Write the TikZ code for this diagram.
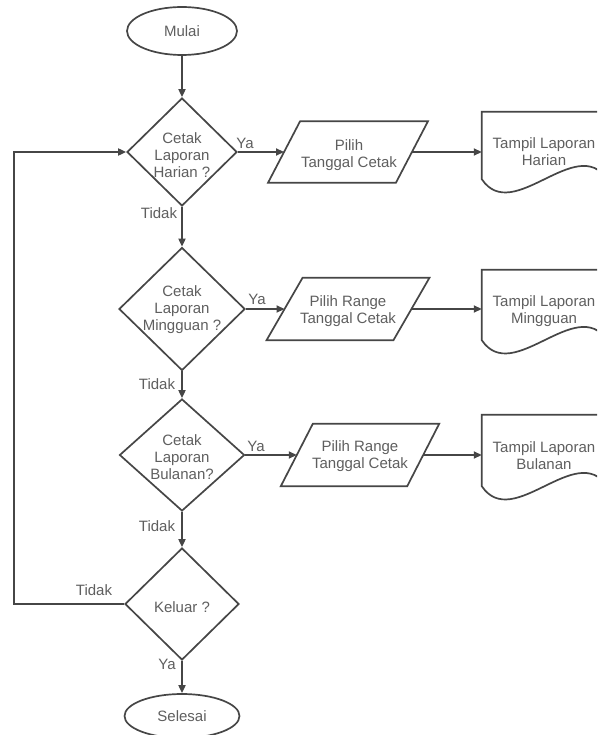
\documentclass[tikz,border=0pt]{standalone}
\usepackage{fontspec}
\setmainfont{Liberation Sans}
\usetikzlibrary{shapes.geometric,arrows.meta,calc}
\definecolor{linegray}{RGB}{70,70,70}
\definecolor{textgray}{RGB}{95,95,95}
\begin{document}
\begin{tikzpicture}[x=1pt,y=-1pt,
  line/.style={draw=linegray, line width=1.7pt},
  arr/.style={line, -{Triangle[length=8pt,width=7pt]}},
  txt/.style={text=textgray, font=\fontsize{15}{17}\selectfont, align=center, inner sep=0pt},
  term/.style={ellipse, line, fill=white, inner sep=0pt, txt},
  decision/.style={diamond, line, fill=white, inner sep=0pt},
  geom/.style={rectangle, draw=none, inner sep=0pt}
]
\useasboundingbox (0,0) rectangle (597,735);
\clip (0,0) rectangle (597,735);
\fill[white] (0,0) rectangle (597,735);

% terminals
\node[term, minimum width=110pt, minimum height=48pt] (start) at (182,31) {Mulai};
\node[term, minimum width=115pt, minimum height=44pt] (stop) at (182,716) {Selesai};

% decisions
\node[decision, minimum width=110pt, minimum height=108pt] (d1) at (182,152) {};
\node[txt] (d1t) at (182,155) {Cetak\\Laporan\\Harian ?};
\node[decision, minimum width=126pt, minimum height=123pt] (d2) at (182,309) {};
\node[txt] (d2t) at (182,310) {Cetak\\Laporan\\Mingguan ?};
\node[decision, minimum width=125pt, minimum height=112pt] (d3) at (182,455) {};
\node[txt] (d3t) at (182,457) {Cetak\\Laporan\\Bulanan?};
\node[decision, minimum width=114pt, minimum height=112pt] (d4) at (182,604) {};
\node[txt] (d4t) at (182,607) {Keluar ?};

% input boxes (parallelograms drawn around invisible frames)
\node[geom, minimum width=127.5pt, minimum height=61pt] (p1) at (348,152) {};
\node[geom, minimum width=126.5pt, minimum height=62pt] (p2) at (348,309) {};
\node[geom, minimum width=126pt, minimum height=62pt] (p3) at (360,455) {};
\foreach \p/\s in {p1/16, p2/18, p3/16}{
  \draw[line, fill=white] ($(\p.north west)+(\s,0)$) -- ($(\p.north east)+(\s,0)$)
    -- ($(\p.south east)-(\s,0)$) -- ($(\p.south west)-(\s,0)$) -- cycle;
}
\node[txt] (p1t) at (349,155) {Pilih\\Tanggal Cetak};
\node[txt] (p2t) at (348,311) {Pilih Range\\Tanggal Cetak};
\node[txt] (p3t) at (360,456) {Pilih Range\\Tanggal Cetak};

% documents
\node[geom, minimum width=125pt, minimum height=67pt] (doc1) at (544.5,145.5) {};
\node[geom, minimum width=125pt, minimum height=70pt] (doc2) at (544.5,305) {};
\node[geom, minimum width=125pt, minimum height=71pt] (doc3) at (544.5,450.5) {};
\foreach \d in {doc1, doc2, doc3}{
  \draw[line, fill=white] (\d.south west) -- (\d.north west) -- (\d.north east) -- (\d.south east)
    .. controls ($(\d.south east)+(-31,-46)$) and ($(\d.south west)+(31,46)$) .. (\d.south west) -- cycle;
}
\node[txt] (doc1t) at (544,152) {Tampil Laporan\\Harian};
\node[txt] (doc2t) at (544,311) {Tampil Laporan\\Mingguan};
\node[txt] (doc3t) at (544,456) {Tampil Laporan\\Bulanan};

% main flow
\draw[arr] (start) -- (d1);
\draw[arr] (d1) -- (d2);
\draw[arr] (d2) -- (d3);
\draw[arr] (d3) -- (d4);
\draw[arr] (d4) -- (stop);

% branches to the right
\draw[arr] (d1.east) -- (p1.west);
\draw[arr] (p1.east) -- (p1.east -| doc1.west);
\draw[arr] (d2.east) -- (p2.west);
\draw[arr] (p2.east) -- (p2.east -| doc2.west);
\draw[arr] (d3.east) -- (p3.west);
\draw[arr] (p3.east) -- (p3.east -| doc3.west);

% loop back
\coordinate (loop) at (14,380);
\draw[arr] (d4.west) -| (loop) |- (d1.west);

% branch labels
\node[txt] (ya1) at (245,143) {Ya};
\node[txt] (ya2) at (257,299) {Ya};
\node[txt] (ya3) at (256,446) {Ya};
\node[txt] (ya4) at (167,664) {Ya};
\node[txt] (no1) at (159,213) {Tidak};
\node[txt] (no2) at (157,384) {Tidak};
\node[txt] (no3) at (157,526) {Tidak};
\node[txt] (no4) at (94,590) {Tidak};
\end{tikzpicture}
\end{document}
